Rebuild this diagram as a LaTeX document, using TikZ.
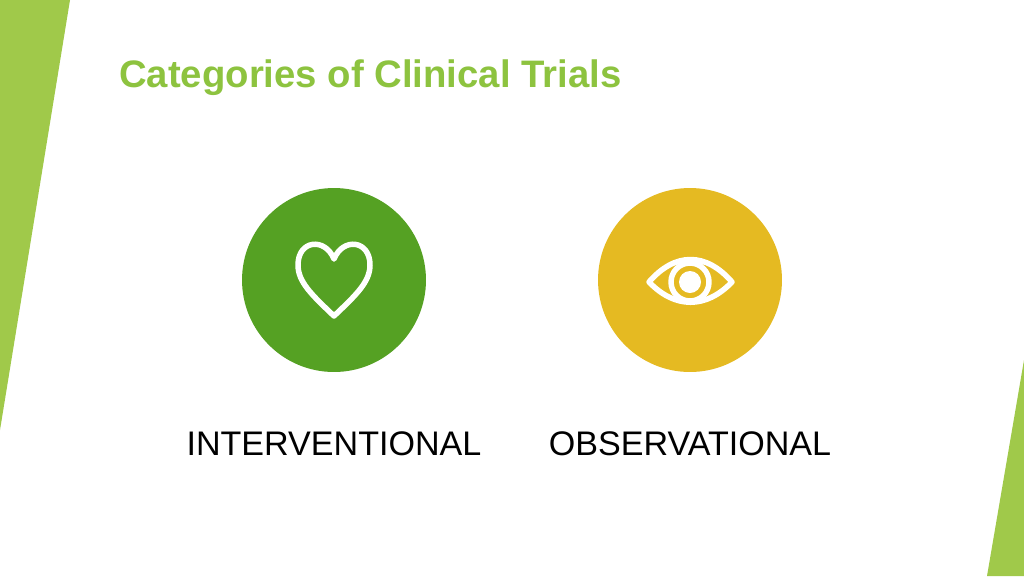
\documentclass[tikz,border=0pt]{standalone}
\usepackage{fontspec}
\setmainfont{Liberation Sans}
\definecolor{band}{HTML}{A0C94A}
\definecolor{gcirc}{HTML}{55A123}
\definecolor{ycirc}{HTML}{E5BA22}
\definecolor{ttl}{HTML}{8DC33F}
\begin{document}
\begin{tikzpicture}[x=0.02cm,y=-0.02cm,
  lbl/.style={font=\fontsize{19.4}{22}\selectfont,text=black},
  icon/.style={draw=white,line width=0.11cm,line join=round}]
\useasboundingbox[fill=white] (0,0) rectangle (1024,576);
\fill[band] (0,0) -- (70,0) -- (0,430) -- cycle;
\fill[band] (1024,360) -- (1024,576) -- (987,576) -- cycle;
\node[anchor=west,font=\bfseries\fontsize{21.8}{25}\selectfont,text=ttl] (title) at (113,78) {Categories of Clinical Trials};
\node[circle,fill=gcirc,minimum size=3.68cm,inner sep=0pt] (c1) at (334,280) {};
\node[circle,fill=ycirc,minimum size=3.68cm,inner sep=0pt] (c2) at (690,280) {};
\draw[icon] (334,316) .. controls (312,295) and (298,282) .. (298,265)
  .. controls (298,240) and (325,237) .. (334,259)
  .. controls (343,237) and (370,240) .. (370,265)
  .. controls (370,282) and (356,295) .. (334,316) -- cycle;
\draw[icon] (649,282) .. controls (675,252) and (706,252) .. (732,282)
  .. controls (706,309) and (675,309) .. (649,282) -- cycle;
\draw[icon] (690,282) circle[radius=0.38cm];
\fill[white] (690,282) circle[radius=0.22cm];
\node[lbl] (l1) at (334,444) {INTERVENTIONAL};
\node[lbl] (l2) at (690,444) {OBSERVATIONAL};
\end{tikzpicture}
\end{document}
